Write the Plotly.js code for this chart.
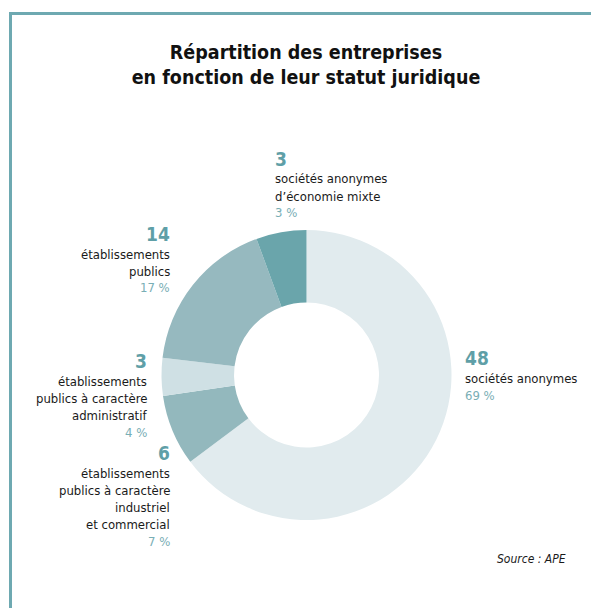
<!DOCTYPE html>
<html>
<head>
<meta charset="utf-8">
<script src="https://cdn.plot.ly/plotly-3.0.1.min.js"></script>
<style>
  body { margin: 0; background: #fff; }
  #pie-chart { width: 591px; height: 608px; }
</style>
</head>
<body>
<div id="pie-chart"></div>
<script>
// slices, clockwise from 12 o'clock
var categories = [
    "sociétés anonymes",
    "établissements publics à caractère industriel et commercial",
    "établissements publics à caractère administratif",
    "établissements publics",
    "sociétés anonymes d’économie mixte"
];
var counts = [48, 6, 3, 14, 3];
var percents = [69, 7, 4, 17, 3];
// share of the ring each slice takes in the picture
var sliceShares = [64.8, 7.9, 4.2, 17.5, 5.6];
// label text, line by line
var labelLines = [
    ["sociétés anonymes"],
    ["établissements", "publics à caractère", "industriel", "et commercial"],
    ["établissements", "publics à caractère", "administratif"],
    ["établissements", "publics"],
    ["sociétés anonymes", "d’économie mixte"]
];

var W = 591, H = 608;
var font = "DejaVu Sans Condensed, Liberation Sans Narrow, sans-serif";
var teal = "#5f9fa7";
var tealLight = "#79aeb5";
var sliceColors = ["#e1ebee", "#93b8bd", "#cfe0e4", "#96b9bf", "#6aa5ab"];

// where each label block sits: anchor x, centre y of the number, side
var labelPos = [
    {x: 463, y: 358, side: "left"},
    {x: 172, y: 453, side: "right"},
    {x: 149, y: 361, side: "right"},
    {x: 172, y: 234, side: "right"},
    {x: 273, y: 159, side: "left"}
];

function px(x) { return x / W; }
function py(y) { return 1 - y / H; }

var annotations = [];
categories.forEach(function(cat, i) {
    var p = labelPos[i];
    var base = {xref: "paper", yref: "paper", x: px(p.x), xanchor: p.side,
                yanchor: "middle", showarrow: false, align: p.side};
    annotations.push(Object.assign({}, base, {
        y: py(p.y), text: "<b>" + counts[i] + "</b>",
        font: {family: font, size: 19, color: teal}
    }));
    var lines = labelLines[i];
    lines.forEach(function(line, k) {
        annotations.push(Object.assign({}, base, {
            y: py(p.y + 20 + k * 17), text: line,
            font: {family: font, size: 13, color: "#1a1a1a"}
        }));
    });
    annotations.push(Object.assign({}, base, {
        y: py(p.y + 20 + lines.length * 17), text: percents[i] + " %",
        font: {family: font, size: 13, color: tealLight}
    }));
});

annotations.push({
    xref: "paper", yref: "paper", x: px(568), y: py(559),
    xanchor: "right", yanchor: "middle", showarrow: false,
    text: "<i>Source : APE</i>",
    font: {family: font, size: 12, color: "#1a1a1a"}
});

// ring centre (306.5, 375) and outer radius 145 in pixels
var cx = 306.5, cy = 375, r = 145;

var trace = {
    type: "pie",
    labels: categories,
    values: sliceShares,
    sort: false,
    direction: "clockwise",
    rotation: 0,
    hole: 0.5,
    textinfo: "none",
    marker: {colors: sliceColors, line: {width: 0}},
    domain: {x: [px(cx - r), px(cx + r)], y: [py(cy + r), py(cy - r)]}
};

var layout = {
    width: W,
    height: H,
    margin: {l: 0, r: 0, t: 0, b: 0},
    showlegend: false,
    paper_bgcolor: "#fff",
    title: {
        text: "<b>Répartition des entreprises<br>en fonction de leur statut juridique</b>",
        font: {family: font, size: 19.5, color: "#111"},
        x: px(306), xanchor: "center",
        y: py(59), yanchor: "middle", yref: "container"
    },
    annotations: annotations,
    shapes: [
        {type: "line", xref: "paper", yref: "paper", x0: px(10.5), x1: px(10.5), y0: 0, y1: py(12),
         line: {color: "#6ea9b1", width: 3}},
        {type: "line", xref: "paper", yref: "paper", x0: px(9), x1: 1, y0: py(13.5), y1: py(13.5),
         line: {color: "#6ea9b1", width: 3}}
    ]
};

Plotly.newPlot("pie-chart", [trace], layout, {displayModeBar: false});
</script>
</body>
</html>
